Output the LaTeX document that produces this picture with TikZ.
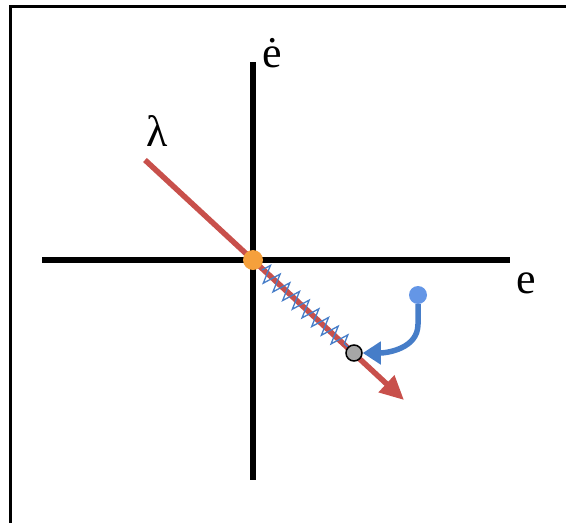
\documentclass[tikz,border=0pt]{standalone}
\usepackage{fontspec}
\setmainfont{Liberation Serif}
\usetikzlibrary{arrows.meta,decorations.pathmorphing}

\definecolor{lamred}{RGB}{200,80,75}
\definecolor{springblue}{RGB}{70,125,200}
\definecolor{dotorange}{RGB}{245,160,60}
\definecolor{dotblue}{RGB}{100,150,230}

\begin{document}
\begin{tikzpicture}[x=1pt, y=-1pt,
                    axis/.style={line width=6.5pt},
                    lam line/.style={line width=5.5pt, draw=lamred, -{Triangle[length=24pt,width=22pt]}},
                    spring/.style={draw=springblue, line width=1.3pt, decorate,
                                   decoration={zigzag, amplitude=9pt, segment length=13pt}},
                    push/.style={draw=springblue, line width=5.5pt, -{Triangle[length=18pt,width=22pt]}},
                    main dot/.style={circle, inner sep=0pt, minimum size=18pt},
                    lbl/.style={inner sep=0pt, font=\fontsize{44}{50}\selectfont}]
  \useasboundingbox (0,0) rectangle (566,523);
  \draw[line width=3pt] (10,523) -- (10,6) -- (566,6);

  % axes
  \coordinate (xl) at (42,260);
  \coordinate (xr) at (510,260);
  \coordinate (yt) at (253,62);
  \coordinate (yb) at (253,480);
  \draw[axis] (xl) -- (xr);
  \draw[axis] (yt) -- (yb);

  % sliding line and spring
  \coordinate (lstart) at (145,160);
  \coordinate (lend) at (404,400);
  \draw[lam line] (lstart) -- (lend);
  \draw[spring] (262,270) -- (348,347);

  \node[main dot, fill=dotorange, minimum size=20pt] (o) at (253,260) {};
  \node[main dot, fill=gray!70, draw=black, line width=1.5pt, minimum size=16pt] (s) at (354,353) {};
  \node[main dot, fill=dotblue] (b) at (418,295) {};

  \draw[push] (b.south) -- ++(0,20) to[out=-90,in=0] (s.east);

  \node[lbl] (lambda) at (157,131) {λ};
  \node[lbl] (edot) at (272,53) {ė};
  \node[lbl] (e) at (526,283) {e};
\end{tikzpicture}
\end{document}
